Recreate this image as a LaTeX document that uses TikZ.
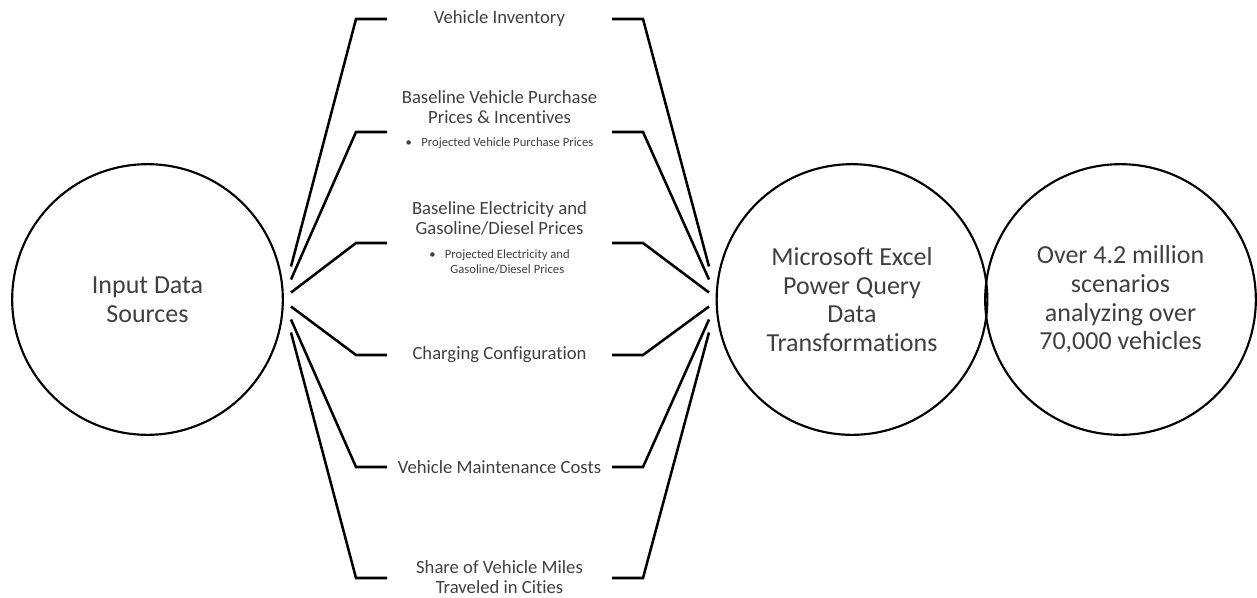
\documentclass[tikz,border=0pt]{standalone}
\usepackage{fontspec}
\setmainfont{Carlito}[Ligatures=NoCommon]
\usetikzlibrary{positioning}
\definecolor{txtgray}{HTML}{3F3F3F}

\begin{document}
\begin{tikzpicture}[
  x=0.75pt, y=-0.75pt,
  node distance=10pt,
  hub/.style={circle, draw=black, line width=1.6pt, minimum size=203pt, inner sep=0pt, align=center, text=txtgray, font=\fontsize{19.5}{21.5}\selectfont},
  item/.style={align=center, inner sep=0pt, text=txtgray, font=\fontsize{14}{15}\selectfont},
  sub/.style={align=center, inner sep=0pt, text=txtgray, font=\fontsize{9.5}{10.7}\selectfont},
  link/.style={draw=black, line width=1.9pt}
]
\useasboundingbox (0,0) rectangle (1257,597);

% circles
\node[hub] (src) at (147.5,299.5) {Input Data\\Sources};
\node[hub] (pq) at (852,299.5) {Microsoft Excel\\Power Query\\Data\\Transformations};
\node[hub] (res) at (1120.5,299.5) {Over 4.2 million\\scenarios\\analyzing over\\70,000 vehicles};

% input items
\node[item] (inv) at (499.5,19) {Vehicle Inventory};
\node[item] (price) at (499.5,107) {Baseline Vehicle Purchase\\Prices \& Incentives};
\node[sub, below=of price] (pricesub) {\textbullet\hspace{7pt}Projected Vehicle Purchase Prices};
\node[item] (fuel) at (499.5,218) {Baseline Electricity and\\Gasoline/Diesel Prices};
\node[sub, below=of fuel] (fuelsub) {\textbullet\hspace{7pt}\begin{tabular}[t]{@{}c@{}}Projected Electricity and\\Gasoline/Diesel Prices\end{tabular}};
\node[item] (charge) at (499.5,355) {Charging Configuration};
\node[item] (maint) at (499.5,467) {Vehicle Maintenance Costs};
\node[item] (vmt) at (499.5,577) {Share of Vehicle Miles\\Traveled in Cities};

% fan-in and fan-out brackets
\foreach \n/\y/\e in {1/19/266.5, 2/132/279.5, 3/243/292.5, 4/355/306.5, 5/467/319.5, 6/578/332.5}{
  \coordinate (sL\n) at (291,\e);
  \coordinate (kL\n) at (356,\y);
  \coordinate (tL\n) at (387,\y);
  \coordinate (tR\n) at (612,\y);
  \coordinate (kR\n) at (643,\y);
  \coordinate (sR\n) at (709,\e);
  \draw[link] (sL\n) -- (kL\n) -- (tL\n);
  \draw[link] (tR\n) -- (kR\n) -- (sR\n);
}
\end{tikzpicture}
\end{document}
